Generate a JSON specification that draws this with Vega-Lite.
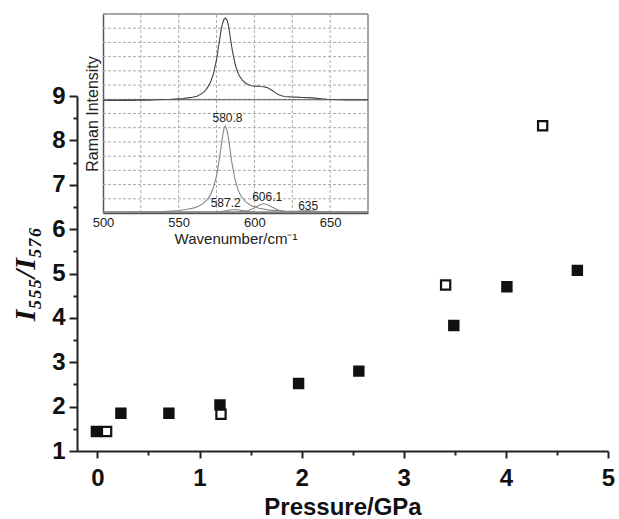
{
  "$schema": "https://vega.github.io/schema/vega-lite/v6.json",
  "width": 531,
  "height": 437,
  "autosize": "none",
  "padding": {"left": 77, "top": 14, "right": 11, "bottom": 68},
  "background": "white",
  "config": {
    "view": {"stroke": null},
    "font": "Liberation Sans",
    "axis": {"labelFont": "Liberation Sans", "titleFont": "Liberation Sans"}
  },
  "datasets": {
    "points": [
      {"pressure": -0.01, "ratio": 1.44, "marker": "filled"},
      {"pressure": 0.23, "ratio": 1.85, "marker": "filled"},
      {"pressure": 0.70, "ratio": 1.85, "marker": "filled"},
      {"pressure": 1.20, "ratio": 2.04, "marker": "filled"},
      {"pressure": 1.97, "ratio": 2.52, "marker": "filled"},
      {"pressure": 2.56, "ratio": 2.80, "marker": "filled"},
      {"pressure": 3.49, "ratio": 3.83, "marker": "filled"},
      {"pressure": 4.01, "ratio": 4.70, "marker": "filled"},
      {"pressure": 4.70, "ratio": 5.07, "marker": "filled"},
      {"pressure": 0.09, "ratio": 1.44, "marker": "open"},
      {"pressure": 1.21, "ratio": 1.83, "marker": "open"},
      {"pressure": 3.41, "ratio": 4.74, "marker": "open"},
      {"pressure": 4.36, "ratio": 8.33, "marker": "open"}
    ],
    "vgrid": [{"wn": 525}, {"wn": 550}, {"wn": 575}, {"wn": 600}, {"wn": 625}, {"wn": 650}],
    "hgrid": [{"v": 1}, {"v": 2}, {"v": 3}, {"v": 4}, {"v": 5}, {"v": 6}, {"v": 7}, {"v": 8}, {"v": 9}, {"v": 10}, {"v": 11}, {"v": 12}, {"v": 13}],
    "labels": [
      {"t": "580.8", "wn": 582.2, "v": 6.65},
      {"t": "587.2", "wn": 581, "v": 0.68},
      {"t": "606.1", "wn": 608.4, "v": 1.13},
      {"t": "635", "wn": 635.5, "v": 0.47}
    ],
    "spectrum": [
      {"s": "exp", "wn": 500, "v": 7.9}, {"s": "exp", "wn": 505, "v": 7.93}, {"s": "exp", "wn": 510, "v": 7.91},
      {"s": "exp", "wn": 515, "v": 7.94}, {"s": "exp", "wn": 520, "v": 7.92}, {"s": "exp", "wn": 525, "v": 7.96},
      {"s": "exp", "wn": 530, "v": 7.93}, {"s": "exp", "wn": 535, "v": 7.97}, {"s": "exp", "wn": 540, "v": 7.99},
      {"s": "exp", "wn": 545, "v": 8.0}, {"s": "exp", "wn": 550, "v": 8.03}, {"s": "exp", "wn": 553, "v": 8.05},
      {"s": "exp", "wn": 556, "v": 8.1}, {"s": "exp", "wn": 559, "v": 8.14}, {"s": "exp", "wn": 562, "v": 8.22},
      {"s": "exp", "wn": 565, "v": 8.38}, {"s": "exp", "wn": 567, "v": 8.55}, {"s": "exp", "wn": 569, "v": 8.82},
      {"s": "exp", "wn": 571, "v": 9.2}, {"s": "exp", "wn": 573, "v": 9.8}, {"s": "exp", "wn": 575, "v": 10.8},
      {"s": "exp", "wn": 576, "v": 11.5}, {"s": "exp", "wn": 577, "v": 12.2}, {"s": "exp", "wn": 578, "v": 12.9},
      {"s": "exp", "wn": 579, "v": 13.35}, {"s": "exp", "wn": 580, "v": 13.65}, {"s": "exp", "wn": 581, "v": 13.72},
      {"s": "exp", "wn": 582, "v": 13.55}, {"s": "exp", "wn": 583, "v": 13.1}, {"s": "exp", "wn": 584, "v": 12.4},
      {"s": "exp", "wn": 585, "v": 11.7}, {"s": "exp", "wn": 586, "v": 11.1}, {"s": "exp", "wn": 587, "v": 10.6},
      {"s": "exp", "wn": 588, "v": 10.2}, {"s": "exp", "wn": 589, "v": 9.9}, {"s": "exp", "wn": 590, "v": 9.65},
      {"s": "exp", "wn": 592, "v": 9.35}, {"s": "exp", "wn": 594, "v": 9.15}, {"s": "exp", "wn": 596, "v": 9.02},
      {"s": "exp", "wn": 598, "v": 8.95}, {"s": "exp", "wn": 600, "v": 8.92}, {"s": "exp", "wn": 602, "v": 8.93},
      {"s": "exp", "wn": 604, "v": 8.9}, {"s": "exp", "wn": 606, "v": 8.88}, {"s": "exp", "wn": 608, "v": 8.84},
      {"s": "exp", "wn": 610, "v": 8.74}, {"s": "exp", "wn": 612, "v": 8.6}, {"s": "exp", "wn": 614, "v": 8.45},
      {"s": "exp", "wn": 616, "v": 8.32}, {"s": "exp", "wn": 618, "v": 8.25}, {"s": "exp", "wn": 620, "v": 8.2},
      {"s": "exp", "wn": 624, "v": 8.17}, {"s": "exp", "wn": 628, "v": 8.15}, {"s": "exp", "wn": 632, "v": 8.13},
      {"s": "exp", "wn": 636, "v": 8.12}, {"s": "exp", "wn": 640, "v": 8.08}, {"s": "exp", "wn": 644, "v": 8.04},
      {"s": "exp", "wn": 648, "v": 8.0}, {"s": "exp", "wn": 652, "v": 7.98}, {"s": "exp", "wn": 656, "v": 7.97},
      {"s": "exp", "wn": 660, "v": 7.96}, {"s": "exp", "wn": 665, "v": 7.96}, {"s": "exp", "wn": 670, "v": 7.96},
      {"s": "exp", "wn": 675, "v": 7.96},
      {"s": "expbase", "wn": 500, "v": 7.97}, {"s": "expbase", "wn": 675, "v": 7.97},
      {"s": "base", "wn": 500, "v": 0.05}, {"s": "base", "wn": 675, "v": 0.05},
      {"s": "c580", "wn": 500, "v": 0.05}, {"s": "c580", "wn": 520, "v": 0.06}, {"s": "c580", "wn": 540, "v": 0.11},
      {"s": "c580", "wn": 550, "v": 0.18}, {"s": "c580", "wn": 555, "v": 0.25}, {"s": "c580", "wn": 560, "v": 0.36},
      {"s": "c580", "wn": 563, "v": 0.48}, {"s": "c580", "wn": 566, "v": 0.66}, {"s": "c580", "wn": 569, "v": 0.96},
      {"s": "c580", "wn": 571, "v": 1.29}, {"s": "c580", "wn": 573, "v": 1.81}, {"s": "c580", "wn": 575, "v": 2.63},
      {"s": "c580", "wn": 577, "v": 3.9}, {"s": "c580", "wn": 579, "v": 5.43}, {"s": "c580", "wn": 580, "v": 5.98},
      {"s": "c580", "wn": 580.8, "v": 6.13}, {"s": "c580", "wn": 582, "v": 5.8}, {"s": "c580", "wn": 583, "v": 5.14},
      {"s": "c580", "wn": 585, "v": 3.61}, {"s": "c580", "wn": 587, "v": 2.43}, {"s": "c580", "wn": 589, "v": 1.68},
      {"s": "c580", "wn": 591, "v": 1.21}, {"s": "c580", "wn": 594, "v": 0.8}, {"s": "c580", "wn": 598, "v": 0.51},
      {"s": "c580", "wn": 603, "v": 0.33}, {"s": "c580", "wn": 610, "v": 0.2}, {"s": "c580", "wn": 620, "v": 0.13},
      {"s": "c580", "wn": 640, "v": 0.08}, {"s": "c580", "wn": 675, "v": 0.06},
      {"s": "c587", "wn": 500, "v": 0.05}, {"s": "c587", "wn": 575, "v": 0.07}, {"s": "c587", "wn": 580, "v": 0.13},
      {"s": "c587", "wn": 584, "v": 0.21}, {"s": "c587", "wn": 587.2, "v": 0.25}, {"s": "c587", "wn": 590, "v": 0.21},
      {"s": "c587", "wn": 594, "v": 0.13}, {"s": "c587", "wn": 600, "v": 0.07}, {"s": "c587", "wn": 675, "v": 0.05},
      {"s": "c606", "wn": 500, "v": 0.05}, {"s": "c606", "wn": 590, "v": 0.08}, {"s": "c606", "wn": 596, "v": 0.17},
      {"s": "c606", "wn": 600, "v": 0.35}, {"s": "c606", "wn": 603, "v": 0.55}, {"s": "c606", "wn": 606.1, "v": 0.67},
      {"s": "c606", "wn": 609, "v": 0.57}, {"s": "c606", "wn": 612, "v": 0.4}, {"s": "c606", "wn": 616, "v": 0.2},
      {"s": "c606", "wn": 620, "v": 0.1}, {"s": "c606", "wn": 630, "v": 0.05}, {"s": "c606", "wn": 675, "v": 0.05},
      {"s": "c635", "wn": 500, "v": 0.05}, {"s": "c635", "wn": 620, "v": 0.06}, {"s": "c635", "wn": 625, "v": 0.09},
      {"s": "c635", "wn": 630, "v": 0.14}, {"s": "c635", "wn": 635, "v": 0.18}, {"s": "c635", "wn": 640, "v": 0.14},
      {"s": "c635", "wn": 645, "v": 0.09}, {"s": "c635", "wn": 650, "v": 0.06}, {"s": "c635", "wn": 675, "v": 0.05}
    ]
  },
  "layer": [
    {
      "data": {"name": "points"},
      "mark": {"type": "square", "size": 85, "stroke": "#111", "strokeWidth": 2.2, "opacity": 1},
      "encoding": {
        "x": {
          "field": "pressure", "type": "quantitative",
          "scale": {"domain": [-0.2, 5], "range": [0, 531], "nice": false, "zero": false},
          "axis": {
            "orient": "bottom",
            "values": [0, 0.5, 1, 1.5, 2, 2.5, 3, 3.5, 4, 4.5, 5],
            "labelExpr": "datum.value % 1 === 0 ? '' + datum.value : ''",
            "tickSize": {"condition": {"test": "datum.value % 1 === 0", "value": 7}, "value": 4},
            "tickColor": "#222", "tickWidth": 2,
            "domainColor": "#222", "domainWidth": 2,
            "grid": false,
            "labelFlush": false, "labelOverlap": false, "labelBound": false,
            "labelFontSize": 24, "labelFontWeight": "bold", "labelColor": "#111", "labelPadding": 8,
            "title": "Pressure/GPa", "titleFontSize": 24, "titleFontWeight": "bold", "titleColor": "#111", "titlePadding": 5
          }
        },
        "y": {
          "field": "ratio", "type": "quantitative",
          "scale": {"domain": [1, 9], "range": [437, 82], "nice": false, "zero": false},
          "axis": {
            "orient": "left",
            "values": [1, 1.5, 2, 2.5, 3, 3.5, 4, 4.5, 5, 5.5, 6, 6.5, 7, 7.5, 8, 8.5, 9],
            "labelExpr": "datum.value % 1 === 0 ? '' + datum.value : ''",
            "tickSize": {"condition": {"test": "datum.value % 1 === 0", "value": 8}, "value": 4},
            "tickColor": "#222", "tickWidth": 2,
            "domainColor": "#222", "domainWidth": 2,
            "grid": false,
            "labelFlush": false, "labelOverlap": false, "labelBound": false,
            "labelFontSize": 24, "labelFontWeight": "bold", "labelColor": "#111", "labelPadding": 4,
            "title": "I₅₅₅/I₅₇₆", "titleFont": "Liberation Serif", "titleFontStyle": "italic", "titleFontWeight": "bold",
            "titleFontSize": 30, "titleColor": "#111", "titlePadding": 11
          }
        },
        "fill": {
          "field": "marker", "type": "nominal",
          "scale": {"domain": ["filled", "open"], "range": ["#111", "white"]},
          "legend": null
        }
      }
    },
    {
      "layer": [
        {
          "data": {"name": "vgrid"},
          "mark": {"type": "rule", "color": "#aaa", "strokeWidth": 1, "strokeDash": [3, 2]},
          "encoding": {
            "x": {"field": "wn", "type": "quantitative", "scale": {"domain": [500, 675], "range": [26, 291], "nice": false, "zero": false}},
            "y": {"datum": 0, "type": "quantitative", "scale": {"domain": [0, 14], "range": [199, 0], "nice": false, "zero": false}},
            "y2": {"datum": 14}
          }
        },
        {
          "data": {"name": "hgrid"},
          "mark": {"type": "rule", "color": "#aaa", "strokeWidth": 1, "strokeDash": [3, 2]},
          "encoding": {
            "y": {"field": "v", "type": "quantitative", "scale": {"domain": [0, 14], "range": [199, 0], "nice": false, "zero": false}},
            "x": {"datum": 500, "type": "quantitative", "scale": {"domain": [500, 675], "range": [26, 291], "nice": false, "zero": false}},
            "x2": {"datum": 675}
          }
        },
        {
          "data": {"values": [{"wn": 675}]},
          "mark": {"type": "rule", "color": "#888", "strokeWidth": 1.5},
          "encoding": {
            "x": {"field": "wn", "type": "quantitative"},
            "y": {"datum": 0, "type": "quantitative"},
            "y2": {"datum": 14}
          }
        },
        {
          "data": {"values": [{"v": 14}]},
          "mark": {"type": "rule", "color": "#888", "strokeWidth": 1.5},
          "encoding": {
            "y": {"field": "v", "type": "quantitative"},
            "x": {"datum": 500, "type": "quantitative"},
            "x2": {"datum": 675}
          }
        },
        {
          "data": {"name": "spectrum"},
          "mark": {"type": "line", "strokeWidth": 1.1},
          "encoding": {
            "x": {
              "field": "wn", "type": "quantitative",
              "scale": {"domain": [500, 675], "range": [26, 291], "nice": false, "zero": false},
              "axis": {
                "orient": "bottom", "offset": -238,
                "values": [500, 550, 600, 650],
                "ticks": false, "grid": false,
                "labelFlush": false, "labelOverlap": false,
                "labelFontSize": 13, "labelColor": "#222", "labelPadding": 3,
                "domainColor": "#555", "domainWidth": 1.5,
                "title": "Wavenumber/cm⁻¹", "titleFontSize": 15, "titleFontWeight": "normal", "titleColor": "#222", "titlePadding": 2
              }
            },
            "y": {
              "field": "v", "type": "quantitative",
              "scale": {"domain": [0, 14], "range": [199, 0], "nice": false, "zero": false},
              "axis": {
                "orient": "left", "offset": -26,
                "labels": false, "ticks": false, "grid": false,
                "domainColor": "#555", "domainWidth": 1.5,
                "title": "Raman Intensity", "titleFontSize": 16, "titleFontWeight": "normal", "titleColor": "#222", "titlePadding": 3
              }
            },
            "detail": {"field": "s", "type": "nominal"},
            "color": {
              "field": "s", "type": "nominal",
              "scale": {"domain": ["exp", "expbase", "base", "c580", "c587", "c606", "c635"], "range": ["#444", "#555", "#666", "#888", "#888", "#888", "#888"]},
              "legend": null
            }
          }
        },
        {
          "data": {"name": "labels"},
          "mark": {"type": "text", "fontSize": 12, "color": "#222", "align": "center", "baseline": "middle"},
          "encoding": {
            "x": {"field": "wn", "type": "quantitative"},
            "y": {"field": "v", "type": "quantitative"},
            "text": {"field": "t", "type": "nominal"}
          }
        }
      ]
    }
  ],
  "resolve": {
    "scale": {"x": "independent", "y": "independent", "color": "independent"},
    "axis": {"x": "independent", "y": "independent"}
  }
}
